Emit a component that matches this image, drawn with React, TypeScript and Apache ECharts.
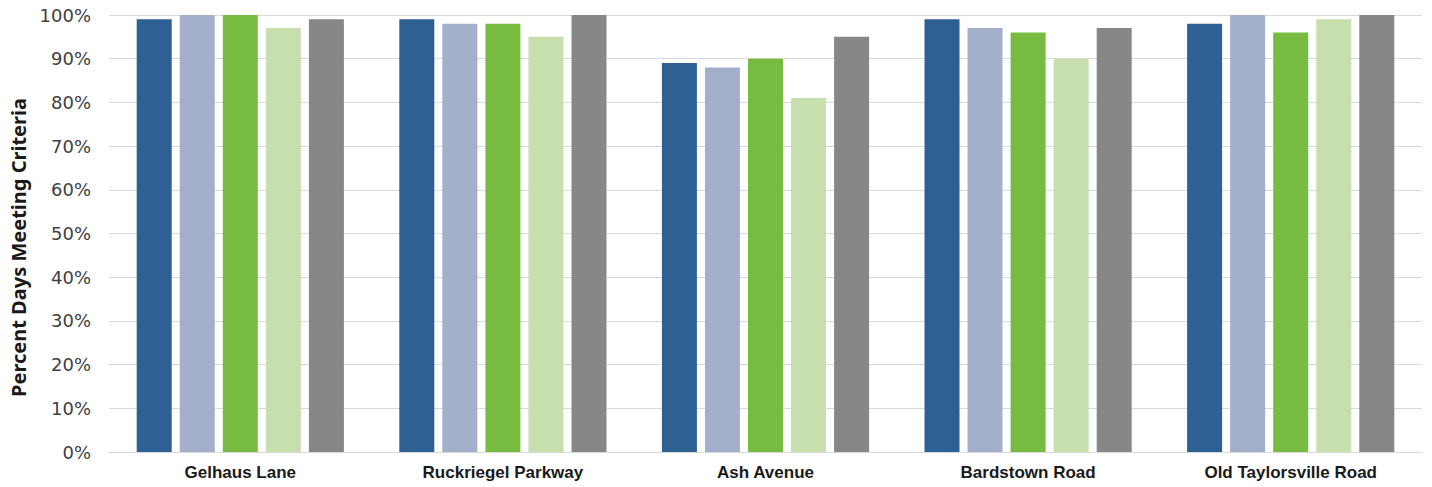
import React, { useEffect, useRef } from "react";
import * as echarts from "echarts";

const categories = ["Gelhaus Lane", "Ruckriegel Parkway", "Ash Avenue", "Bardstown Road", "Old Taylorsville Road"];
const series1 = [99, 99, 89, 99, 98];
const series2 = [100, 98, 88, 97, 100];
const series3 = [100, 98, 90, 96, 96];
const series4 = [97, 95, 81, 90, 99];
const series5 = [99, 100, 95, 97, 100];
const colors = ["#2E6093", "#A3AFCB", "#77BB41", "#C7DFAD", "#878787"];
const seriesData = [series1, series2, series3, series4, series5];

export default function App() {
  const ref = useRef<HTMLDivElement>(null);
  useEffect(() => {
    document.body.style.margin = "0";
    const chart = echarts.init(ref.current!, null, { renderer: "svg" });
    chart.setOption({
      animation: false,
      grid: { left: 108, right: 10, top: 15, bottom: 35 },
      xAxis: {
        type: "category",
        data: categories,
        axisLine: { show: true, lineStyle: { color: "#D9D9D9", width: 1 } },
        axisTick: { show: false },
        axisLabel: {
          color: "#1a1a1a",
          fontWeight: "bold",
          fontSize: 17,
          fontFamily: "Liberation Sans Narrow, Liberation Sans, Arial",
          margin: 12,
        },
      },
      yAxis: {
        type: "value",
        min: 0,
        max: 100,
        interval: 10,
        name: "Percent Days Meeting Criteria",
        nameLocation: "middle",
        nameRotate: 90,
        nameGap: 81,
        nameTextStyle: {
          color: "#1a1a1a",
          fontWeight: "bold",
          fontSize: 20,
          fontFamily: "Noto Sans, Open Sans",
          padding: [0, 28, 0, 0],
        },
        axisLine: { show: false },
        axisTick: { show: false },
        axisLabel: {
          formatter: "{value}%",
          color: "#404040",
          fontSize: 18,
          fontFamily: "DejaVu Sans, Noto Sans",
          margin: 18,
        },
        splitLine: { lineStyle: { color: "#D9D9D9", width: 1 } },
      },
      series: seriesData.map((d, i) => ({
        type: "bar",
        data: d,
        barWidth: 35,
        barGap: "23%",
        itemStyle: { color: colors[i] },
      })),
    });
    return () => chart.dispose();
  }, []);
  return <div ref={ref} style={{ width: 1432, height: 487, position: "absolute", left: 0, top: 0 }} />;
}
